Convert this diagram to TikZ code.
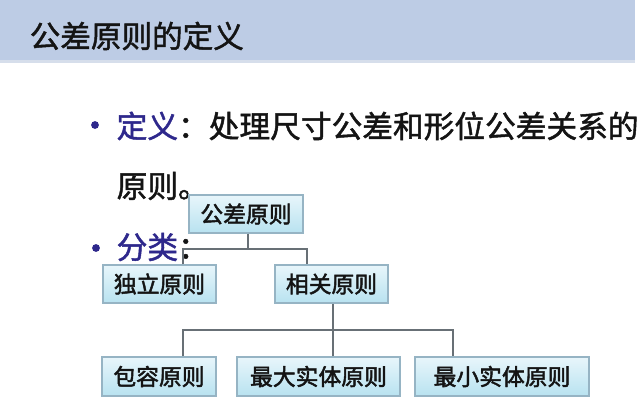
\documentclass[tikz,border=0pt]{standalone}
\usepackage{fontspec}
\setmainfont{Noto Sans CJK SC}[FakeBold=1.5]
\newfontfamily\boxfont{Noto Sans CJK SC}[FakeBold=2]
\usetikzlibrary{calc}
\definecolor{bandc}{RGB}{189,204,229}
\definecolor{bandsh}{RGB}{214,222,235}
\definecolor{defblue}{RGB}{46,40,140}
\definecolor{connc}{RGB}{104,112,118}
\definecolor{boxtop}{RGB}{232,246,251}
\definecolor{boxbot}{RGB}{184,226,240}
\definecolor{boxline}{RGB}{150,180,196}
\definecolor{txtc}{RGB}{20,20,20}
\tikzset{
  pbox/.style={draw=boxline, line width=1.3pt, top color=boxtop, bottom color=boxbot,
    minimum height=38pt, inner sep=0pt, text=txtc,
    font=\boxfont\fontsize{22.8}{24}\selectfont},
  conn/.style={draw=connc, line width=2.2pt},
  bigtext/.style={anchor=west, inner sep=0pt, text=txtc, font=\fontsize{30.7}{32}\selectfont},
  bulletdot/.style={fill=defblue}
}
\begin{document}
\begin{tikzpicture}[x=1pt,y=-1pt]
\useasboundingbox (0,0) rectangle (640,415);
\fill[white] (0,0) rectangle (640,415);
% title band
\fill[bandsh] (0,58) rectangle (635,63);
\fill[bandc] (0,0) rectangle (635,60);
\node[anchor=west, inner sep=0pt, text=txtc, font=\fontsize{30.6}{32}\selectfont] (title) at (29.5,36) {公差原则的定义};
% bullets
\fill[bulletdot] (95,125) circle (3.9);
\fill[bulletdot] (96,248) circle (3.9);
\node[bigtext] (def) at (116.5,126) {\textcolor{defblue}{定义}：处理尺寸公差和形位公差关系的};
\node[bigtext] (def2) at (116.5,186) {原则。};
\node[bigtext] (cls) at (116.5,247) {\textcolor{defblue}{分类}：};
% boxes
\node[pbox, minimum width=114pt] (gc) at (246,214) {公差原则};
\node[pbox, minimum width=113pt] (dl) at (159.5,284) {独立原则};
\node[pbox, minimum width=113pt] (xg) at (331.5,284) {相关原则};
\node[pbox, minimum width=114pt, minimum height=39pt] (br) at (159,376.5) {包容原则};
\node[pbox, minimum width=163pt, minimum height=39pt] (zd) at (318.5,376.5) {最大实体原则};
\node[pbox, minimum width=174pt, minimum height=39pt] (zx) at (502,376.5) {最小实体原则};
% connector coordinates
\coordinate (xs) at (248,0);
\coordinate (xa) at (183,0);
\coordinate (xb) at (307,0);
\coordinate (ya) at (0,249);
\coordinate (xc) at (333,0);
\coordinate (xd) at (183,0);
\coordinate (xe) at (453,0);
\coordinate (yb) at (0,330);
% connectors
\draw[conn] (gc.south -| xs) -- (xs |- ya);
\draw[conn] (dl.north -| xa) -- (xa |- ya) -- (xb |- ya) -- (xg.north -| xb);
\draw[conn] (xg.south -| xc) -- (xc |- yb);
\draw[conn] (br.north -| xd) -- (xd |- yb) -- (xe |- yb) -- (zx.north -| xe);
\draw[conn] (zd.north -| xc) -- (xc |- yb);
\end{tikzpicture}
\end{document}
